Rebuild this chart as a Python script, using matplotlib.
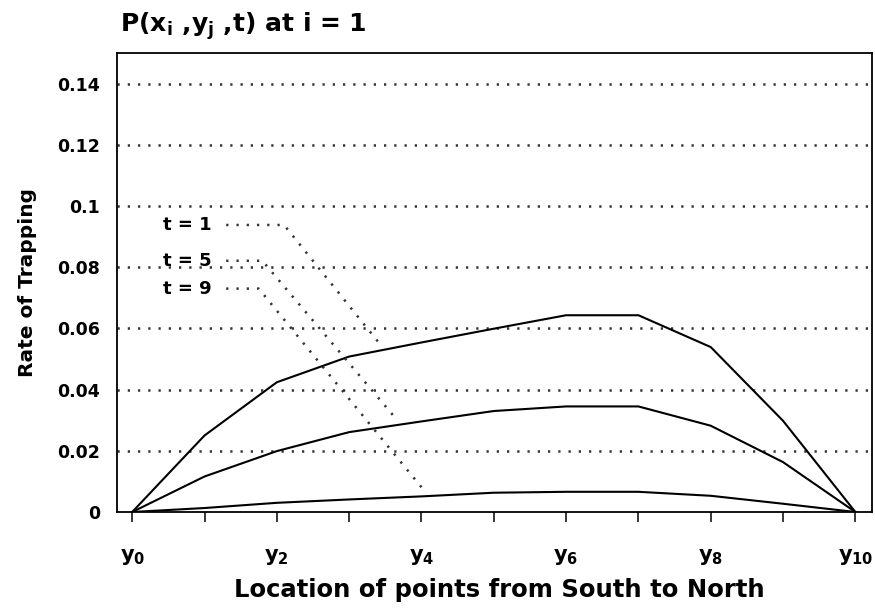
import numpy as np
import matplotlib
matplotlib.use("Agg")
import matplotlib.pyplot as plt

plt.rcParams['font.family'] = ['DejaVu Sans']
plt.rcParams['font.weight'] = 'bold'
plt.rcParams['mathtext.fontset'] = 'dejavusans'
plt.rcParams['mathtext.default'] = 'bf'

# points y0 .. y10 from south to north
points = np.arange(11)
tick_names = [r'y$_{%d}$' % k if k % 2 == 0 else '' for k in points]

# rate of trapping, one series per time step
rate_t1 = [0, 0.0250, 0.0424, 0.0508, 0.0554, 0.0599, 0.0643, 0.0643, 0.0539, 0.0298, 0]
rate_t5 = [0, 0.0116, 0.0199, 0.0261, 0.0296, 0.0330, 0.0345, 0.0345, 0.0282, 0.0163, 0]
rate_t9 = [0, 0.0013, 0.0030, 0.0041, 0.0051, 0.0063, 0.0066, 0.0066, 0.0053, 0.0027, 0]

series = [rate_t1, rate_t5, rate_t9]
labels = ['t = 1', 't = 5', 't = 9']

# callout labels and where their dotted leaders bend and end
label_y = [0.0938, 0.0821, 0.0730]
elbow_x = [2.1, 1.8, 1.75]
end_x = [3.4, 3.62, 4.0]

yticks = [0, 0.02, 0.04, 0.06, 0.08, 0.1, 0.12, 0.14]
ytick_names = ['0', '0.02', '0.04', '0.06', '0.08', '0.1', '0.12', '0.14']

fig = plt.figure(figsize=(8.75, 6.13), dpi=100)
ax = fig.add_axes([117/875, 1 - 512/613, 755/875, 459/613])

dots = (0, (0.9, 3.2))
for yv in yticks[1:]:
    ax.axhline(yv, color='#333333', lw=1.8, ls=dots)

for vals in series:
    ax.plot(points, vals, color='black', lw=1.5)

for k in range(len(labels)):
    ax.text(1.1, label_y[k], labels[k], ha='right', va='center',
            fontsize=13, fontweight='bold')
    yend = np.interp(end_x[k], points, series[k]) + 0.003
    ax.plot([1.3, elbow_x[k], end_x[k]], [label_y[k], label_y[k], yend],
            color='#333333', lw=1.8, ls=dots)

ax.set_xlim(-0.21, 10.23)
ax.set_ylim(0, 0.15)
ax.set_xticks(points)
ax.set_xticklabels(tick_names, fontsize=15)
ax.set_yticks(yticks)
ax.set_yticklabels(ytick_names, fontsize=12.5)
ax.tick_params(axis='x', direction='out', length=7, width=1.1, pad=18)
ax.tick_params(axis='y', length=0, pad=12)
for sp in ax.spines.values():
    sp.set_linewidth(1.3)

ax.set_xlabel('Location of points from South to North', fontsize=17.5, fontweight='bold')
ax.xaxis.set_label_coords(0.507, -0.144)
ax.set_ylabel('Rate of Trapping', fontsize=14.5, fontweight='bold')
ax.yaxis.set_label_coords(-0.106, 0.5)

fig.text(120/875, 1 - 32/613, r'P(x$_{i}$ ,y$_{j}$ ,t) at i = 1', fontsize=18,
         fontweight='bold', va='baseline', ha='left')

plt.savefig('out.png', dpi=100)
